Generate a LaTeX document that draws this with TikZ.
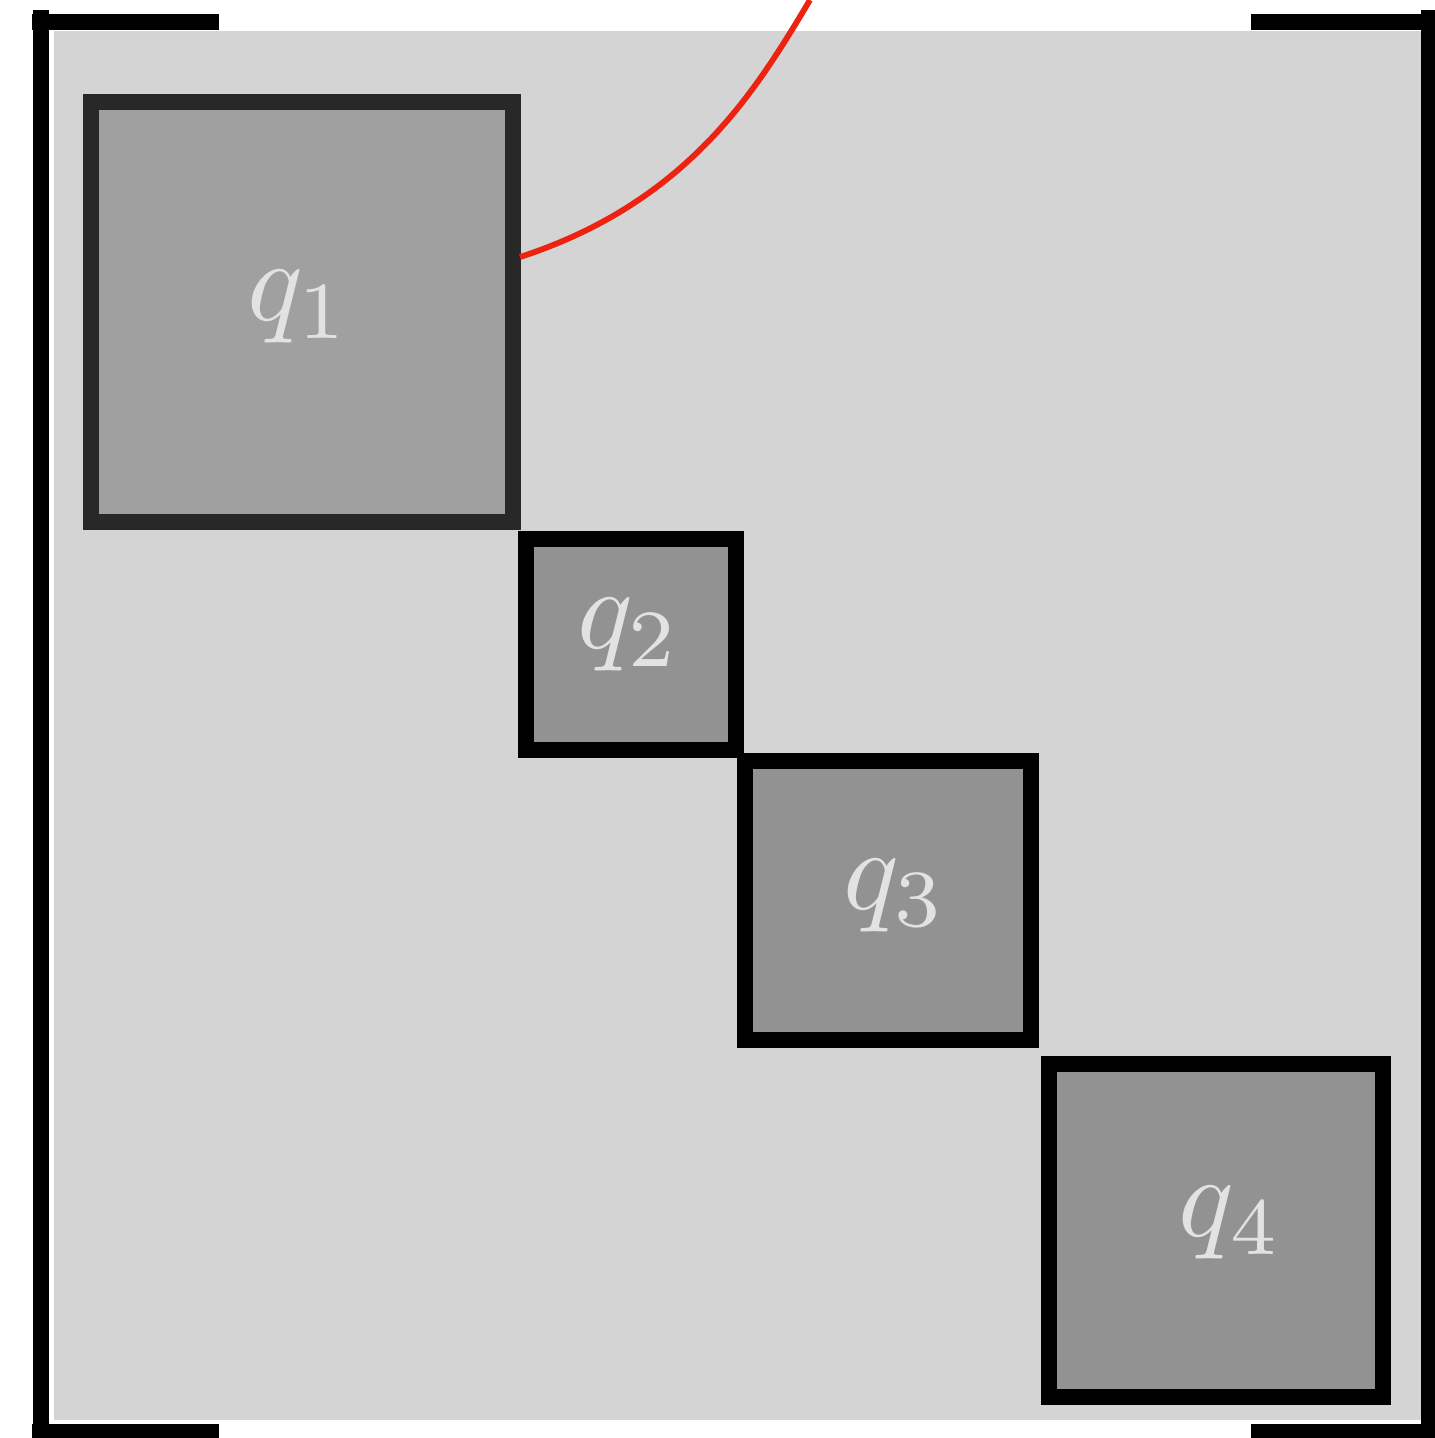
\documentclass[tikz,border=0pt]{standalone}
\definecolor{bgray}{HTML}{D4D4D4}
\definecolor{qonefill}{HTML}{A0A0A0}
\definecolor{qfill}{HTML}{929292}
\definecolor{qoneline}{HTML}{282828}
\definecolor{lbl}{HTML}{E2E2E2}
\definecolor{curvered}{HTML}{EE2211}
\tikzset{
  blockbox/.style={draw=black, fill=qfill, line width=4pt, inner sep=0pt, rectangle},
  lblnode/.style={text=lbl, inner sep=0pt, scale=2.9},
  brack/.style={line width=4pt, draw=black},
}
\begin{document}
\begin{tikzpicture}[x=0.25pt, y=-0.25pt]
\clip (0,0) rectangle (1435,1438);
\useasboundingbox (0,0) rectangle (1435,1438);
% background
\fill[bgray] (54,31) rectangle (1421,1420);
% brackets
\draw[brack] (40.5,10) -- (40.5,1445);
\draw[brack] (32,22) -- (219,22);
\draw[brack] (32,1432) -- (219,1432);
\draw[brack] (1429,10) -- (1429,1445);
\draw[brack] (1251,22) -- (1440,22);
\draw[brack] (1251,1432) -- (1440,1432);
% blocks
\node[blockbox, draw=qoneline, fill=qonefill, minimum width=105.6pt, minimum height=105pt] (b1) at (301.85,312) {};
\node[blockbox, minimum width=52.5pt, minimum height=52.75pt] (b2) at (631,644.2) {};
\node[blockbox, minimum width=71.35pt, minimum height=69.55pt] (b3) at (888,900.4) {};
\node[blockbox, minimum width=83.5pt, minimum height=83.3pt] (b4) at (1216,1230.7) {};
% labels
\node[lblnode] (l1) at (299,307) {$q_1$};
\node[lblnode] (l2) at (629,635) {$q_2$};
\node[lblnode] (l3) at (895,895.5) {$q_3$};
\node[lblnode] (l4) at (1230.7,1223) {$q_4$};
% red curve
\coordinate (cs) at (520,257);
\coordinate (ce) at (810,0);
\draw[curvered, line width=1.45pt] (cs) .. controls (691.2,201.4) and (758.5,85.7) .. (ce);
\end{tikzpicture}
\end{document}
